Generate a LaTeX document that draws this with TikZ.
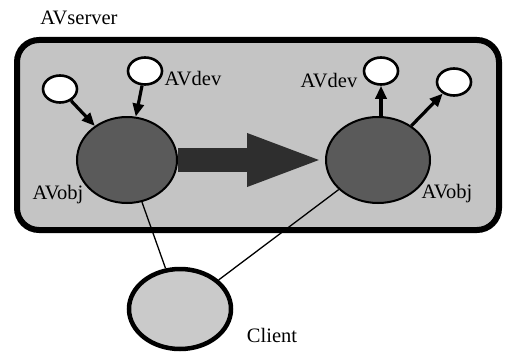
\documentclass[tikz,border=0pt]{standalone}
\usepackage{fontspec}
\setmainfont{Liberation Serif}
\usetikzlibrary{arrows.meta,shapes.geometric}

\definecolor{serverfill}{HTML}{C4C4C4}
\definecolor{objfill}{HTML}{5A5A5A}
\definecolor{flowfill}{HTML}{2E2E2E}
\definecolor{clientfill}{HTML}{CACACA}

\tikzset{
  lbl/.style={font=\rmfamily\fontsize{20.5}{23}\selectfont, anchor=base, inner sep=0pt},
  dev/.style={ellipse, draw, fill=white, line width=2.6pt,
    minimum width=34pt, minimum height=27pt, inner sep=0pt},
  avobj/.style={ellipse, draw, fill=objfill, line width=2pt,
    minimum width=100pt, minimum height=86pt, inner sep=0pt},
  client/.style={ellipse, draw, fill=clientfill, line width=4.5pt,
    minimum width=102pt, minimum height=80pt, inner sep=0pt},
  devarrow/.style={line width=3.2pt, -{Triangle[length=13pt,width=11pt]}},
  flow/.style={line width=24pt, draw=flowfill,
    -{Triangle[length=78pt,width=47pt,fill=flowfill]}},
  link/.style={line width=1.3pt}
}

\begin{document}
\begin{tikzpicture}[x=1pt,y=-1pt]
  \useasboundingbox (0,0) rectangle (505,353);

  % server frame
  \draw[line width=6pt, fill=serverfill, rounded corners=22pt]
    (17,40) rectangle (499,230);
  \node[lbl] (srvlabel) at (79,25) {AVserver};

  % AV objects
  \node[avobj] (objL) at (127,160) {};
  \node[avobj, minimum width=104pt] (objR) at (378,160) {};

  % devices
  \node[dev] (devA) at (60,89) {};
  \node[dev] (devB) at (145,71) {};
  \node[dev] (devC) at (381,71) {};
  \node[dev] (devD) at (454,82) {};

  % client
  \node[client] (cli) at (180,309) {};

  % labels
  \node[lbl] (devlabL) at (193,85) {AVdev};
  \node[lbl] (devlabR) at (329,87) {AVdev};
  \node[lbl] (objlabL) at (58,199) {AVobj};
  \node[lbl] (objlabR) at (447,198) {AVobj};
  \node[lbl] (clilabel) at (272,342) {Client};

  % data flow between objects
  \draw[flow] (objL.east) -- (objR.west);

  % device connections
  \draw[devarrow] (devA) -- (objL);
  \draw[devarrow] (devB) -- (objL);
  \draw[devarrow] (objR.north -| devC.south) -- (devC.south);
  \draw[devarrow] (objR) -- (devD);

  % client links
  \draw[link] (objL) -- (cli);
  \draw[link] (objR) -- (cli);
\end{tikzpicture}
\end{document}
